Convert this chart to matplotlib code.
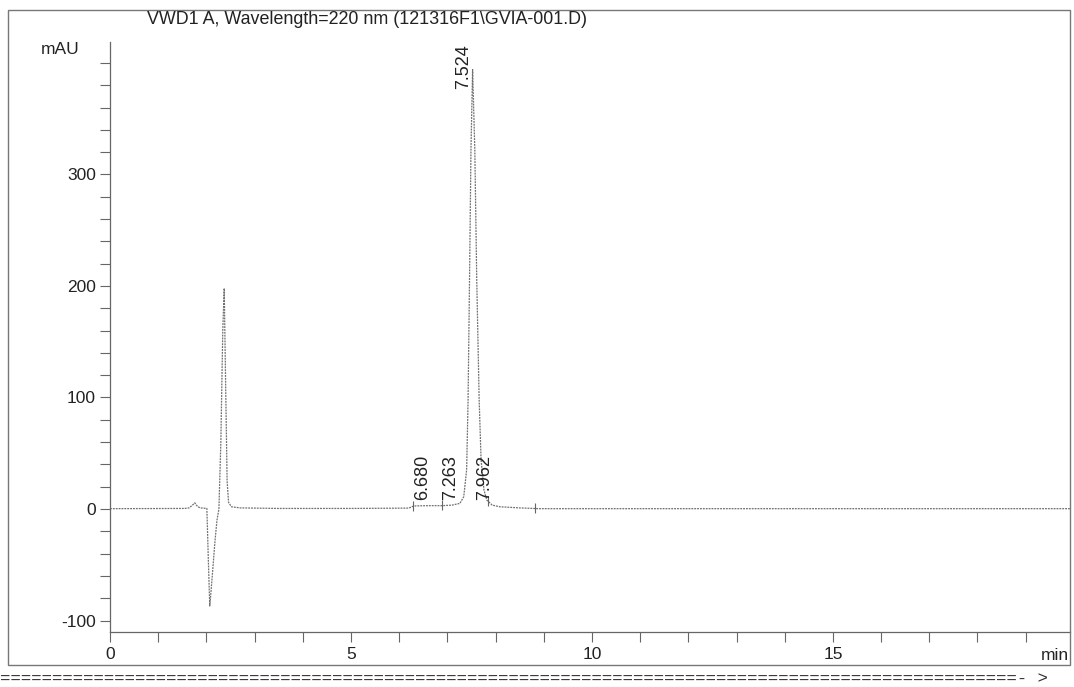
import matplotlib.pyplot as plt
import numpy as np
from matplotlib.patches import Rectangle
from matplotlib.ticker import MultipleLocator, FuncFormatter

plt.rcParams['font.family'] = ['Liberation Sans', 'DejaVu Sans']
plt.rcParams['axes.unicode_minus'] = False

# chromatogram trace (min, mAU)
time = [0.0, 1.55, 1.64, 1.70, 1.76, 1.82, 1.88, 2.01, 2.04, 2.07, 2.10, 2.14,
        2.18, 2.22, 2.26, 2.30, 2.34, 2.37, 2.40, 2.43, 2.46, 2.52, 2.70, 3.5,
        5.0, 6.2, 6.29, 6.35, 6.6, 6.9, 7.1, 7.2, 7.26, 7.34, 7.40, 7.43, 7.46,
        7.49, 7.524, 7.57, 7.61, 7.66, 7.70, 7.76, 7.82, 7.93, 8.09, 8.5, 8.9,
        12.0, 19.92]
signal = [0.3, 0.5, 1.0, 3.0, 5.5, 2.0, 1.0, 0.5, -45, -87, -72, -50,
          -28, -10, 0, 60, 160, 198, 110, 25, 6, 2, 1, 0.5,
          0.5, 0.8, 2.5, 2.8, 3.0, 3.0, 3.5, 4.5, 5, 11, 35, 98, 205,
          322, 394, 322, 205, 98, 44, 17, 8, 3.5, 2, 1, 0.3,
          0.3, 0.3]

# peak labels (retention time, level of label foot)
peak_rt = [6.680, 7.263, 7.524, 7.962]
label_level = [8, 8, 377, 8]
peak_text = ['6.680', '7.263', '7.524', '7.962']

# integration event marks
event_t = [6.29, 6.89, 7.84, 8.82]
event_v = [2.5, 3.0, 7.0, 0.3]

title = r'VWD1 A, Wavelength=220 nm (121316F1\GVIA-001.D)'

W, H = 1074, 687
fig = plt.figure(figsize=(W / 100, H / 100), dpi=100)

# outer frame of the printout
fig.patches.append(Rectangle((8 / W, 1 - 665 / H), 1062 / W, 655 / H,
                             transform=fig.transFigure, fill=False,
                             edgecolor='#777777', lw=1.0))

ax = fig.add_axes([110 / W, 1 - 632 / H, 960 / W, 590 / H])
ax.plot(time, signal, color='#707070', lw=0.9, ls=(0, (1.5, 0.8)))

ax.set_xlim(0, 19.92)
ax.set_ylim(-110.3, 418.8)

ax.spines['top'].set_visible(False)
ax.spines['right'].set_visible(False)
for s in ['left', 'bottom']:
    ax.spines[s].set_color('#666666')
    ax.spines[s].set_linewidth(0.9)

ax.xaxis.set_major_locator(MultipleLocator(5))
ax.xaxis.set_minor_locator(MultipleLocator(1))
ax.yaxis.set_major_locator(MultipleLocator(100))
ax.yaxis.set_minor_locator(MultipleLocator(20))
# top label is taken by the unit "mAU"
ax.yaxis.set_major_formatter(FuncFormatter(lambda v, p: '' if v >= 400 else f'{v:.0f}'))
ax.tick_params(which='both', direction='out', color='#666666', width=0.8,
               length=7, labelsize=12.5, labelcolor='#222222')
ax.tick_params(axis='x', pad=4)
ax.tick_params(axis='y', pad=3)

# retention time labels
for rt, lv, s in zip(peak_rt, label_level, peak_text):
    ax.text(rt - 0.02, lv, s, rotation=90, ha='right', va='bottom',
            fontsize=13, color='#222222')

ax.vlines(event_t, np.array(event_v) - 4, np.array(event_v) + 5,
          color='#666666', lw=0.8)

fig.text(147 / W, 1 - 19 / H, title, ha='left', va='center',
         fontsize=12.9, color='#222222')
fig.text(60 / W, 1 - 50 / H, 'mAU', ha='center', va='center',
         fontsize=12.5, color='#222222')
fig.text(1069 / W, 1 - 655 / H, 'min', ha='right', va='center',
         fontsize=12.5, color='#222222')
fig.text(0, 1 - 686 / H, '=' * 98 + '- >', ha='left', va='bottom',
         fontsize=12.5, family='Liberation Mono', color='#333333')

fig.savefig('out.png', dpi=100)
